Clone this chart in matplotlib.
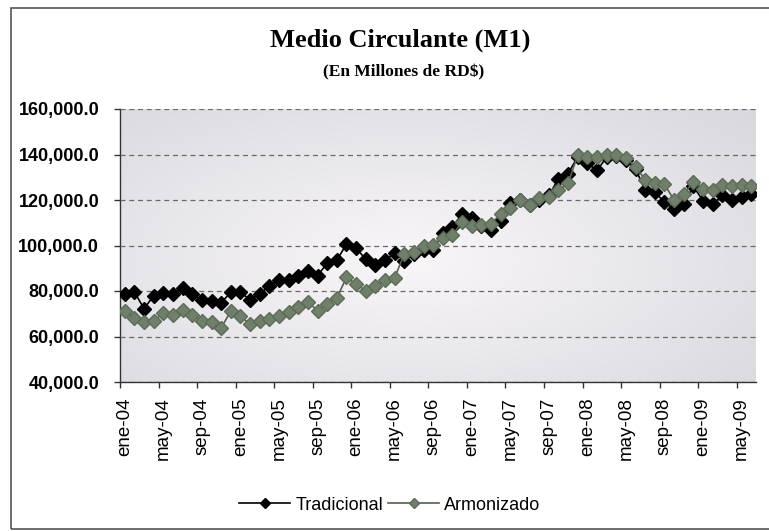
import numpy as np
import matplotlib
matplotlib.use("Agg")
import matplotlib.pyplot as plt
from matplotlib.patches import Rectangle
from matplotlib.ticker import FuncFormatter

# monthly data, ene-04 .. jun-09 (millones de RD$)
meses = ["ene", "feb", "mar", "abr", "may", "jun",
         "jul", "ago", "sep", "oct", "nov", "dic"]
anios = ["04", "05", "06", "07", "08", "09"]
periodos = [f"{m}-{a}" for a in anios for m in meses][:66]

tradicional = [
    78.9, 79.5, 72.2, 78.0, 79.3, 78.6, 81.1, 78.6, 76.0, 75.4, 74.9, 79.4,
    79.4, 76.2, 78.8, 82.2, 84.8, 84.8, 86.7, 88.8, 86.8, 92.2, 93.5, 100.6,
    98.8, 94.0, 91.5, 93.6, 96.6, 93.4, 96.1, 97.9, 98.2, 105.3, 108.2, 113.8,
    112.0, 108.6, 106.6, 110.6, 118.7, 119.9, 118.0, 120.2, 122.0, 129.3, 131.6, 139.0,
    136.3, 133.0, 138.8, 139.3, 137.5, 133.5, 124.5, 123.5, 119.0, 116.0, 118.2, 126.0,
    119.7, 118.2, 122.0, 120.0, 121.2, 122.7,
]
armonizado = [
    71.0, 68.1, 66.2, 66.7, 70.4, 69.6, 71.7, 69.3, 66.8, 66.3, 63.8, 71.2,
    69.0, 65.3, 66.8, 67.6, 69.1, 70.6, 72.9, 75.1, 71.4, 74.5, 76.8, 86.0,
    82.9, 80.2, 82.1, 84.7, 85.8, 96.3, 97.0, 100.0, 100.4, 103.5, 104.5, 110.5,
    108.5, 109.0, 109.4, 114.0, 116.5, 120.2, 118.0, 120.9, 121.5, 124.3, 127.3, 139.8,
    138.8, 138.8, 140.0, 139.8, 138.5, 134.5, 129.0, 127.5, 126.9, 120.0, 122.7, 128.0,
    125.0, 124.2, 126.5, 126.0, 126.5, 126.0,
]
tradicional = [v * 1000 for v in tradicional]
armonizado = [v * 1000 for v in armonizado]

plt.rcParams["font.family"] = ["Liberation Sans", "DejaVu Sans"]

fig = plt.figure(figsize=(7.69, 5.31), dpi=100)
ax = fig.add_axes([120 / 769, 1 - 382 / 531, 636 / 769, 273 / 531])

# textured plot-area fill: light centre fading to grey edges
yy, xx = np.mgrid[0:1:200j, 0:1:300j]
d = np.sqrt(((xx - 0.45) / 0.8) ** 2 + ((yy - 0.45) / 0.85) ** 2)
t = np.clip(d, 0, 1)[..., None]
centre = np.array([0.975, 0.965, 0.975])
edge = np.array([0.84, 0.84, 0.86])
img = centre * (1 - t) + edge * t
ax.imshow(img, extent=[0, 1, 0, 1], transform=ax.transAxes,
          aspect="auto", zorder=0, origin="lower")

x = np.arange(len(periodos))
ax.plot(x, tradicional, color="black", lw=1.2, marker="D", ms=6.8,
        mfc="black", mec="black", label="Tradicional", zorder=3)
ax.plot(x, armonizado, color="#55604f", lw=1.2, marker="D", ms=6.8,
        mfc="#6f7f69", mec="#5d6b58", label="Armonizado", zorder=4)

ax.set_xlim(-0.5, len(periodos) - 0.5)
ax.set_ylim(40000, 160000)
ax.set_yticks(np.arange(40000, 160001, 20000))
ax.yaxis.set_major_formatter(FuncFormatter(lambda v, p: f"{v:,.1f}"))
ax.yaxis.grid(True, color="#6a6a6a", ls=(0, (4, 3)), lw=0.9)
ax.set_axisbelow(False)
for gl in ax.get_ygridlines():
    gl.set_zorder(1)

lab_pos = x[::4]
ax.set_xticks(lab_pos)
ax.set_xticklabels([periodos[i] for i in lab_pos], rotation=90, fontsize=13.5)
ax.set_xticks(np.arange(-0.5, len(periodos), 4), minor=True)
ax.tick_params(axis="x", which="major", length=0, pad=11)
ax.tick_params(axis="x", which="minor", length=4, width=1, color="#333333")
ax.tick_params(axis="y", length=4, width=1, pad=11, color="#333333")
for lbl in ax.get_yticklabels():
    lbl.set_fontweight("bold")
    lbl.set_fontsize(13)

for s in ["top", "right"]:
    ax.spines[s].set_visible(False)
for s in ["left", "bottom"]:
    ax.spines[s].set_color("#333333")
    ax.spines[s].set_linewidth(1)

fig.text(400 / 769, 1 - 40 / 531, "Medio Circulante (M1)", ha="center", va="center",
         fontsize=19, fontweight="bold", family=["Liberation Serif", "DejaVu Serif"])
fig.text(404 / 769, 1 - 72 / 531, "(En Millones de RD$)", ha="center", va="center",
         fontsize=12.5, fontweight="bold", family=["Liberation Serif", "DejaVu Serif"])

fig.legend(loc="center", bbox_to_anchor=(390 / 769, 1 - 505 / 531), ncol=2,
           frameon=False, fontsize=13, handlelength=2.8, handletextpad=0.3,
           columnspacing=0.3, markerscale=0.75)

# chart-area border (right edge is cut off in the scan)
fig.patches.append(Rectangle((11 / 769, 2 / 531), 1.0, 521 / 531,
                             transform=fig.transFigure, fill=False,
                             edgecolor="#555555", lw=1.2))

fig.savefig("out.png", dpi=100)
